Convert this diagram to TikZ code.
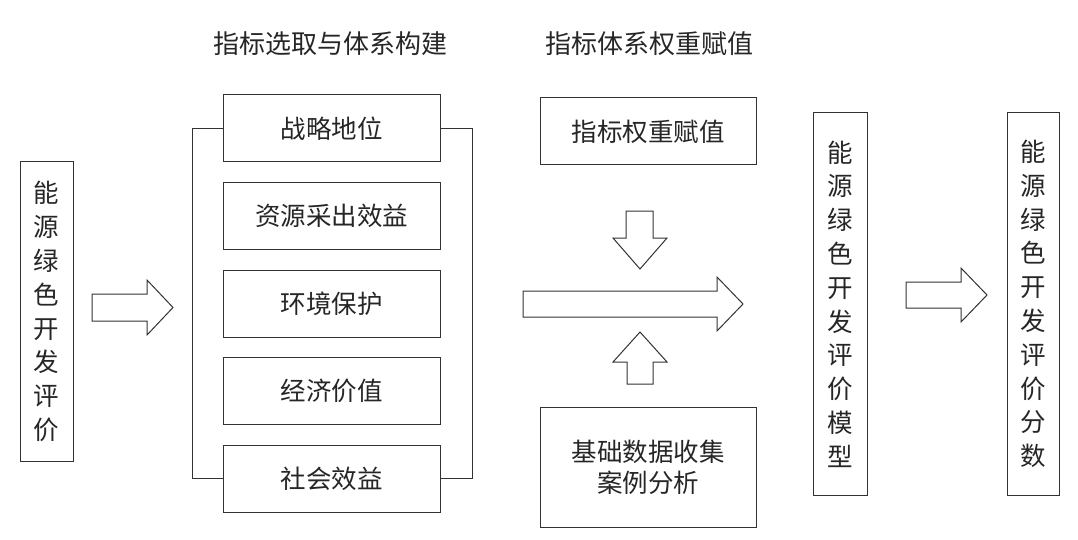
\documentclass[tikz,border=0pt]{standalone}
\usepackage{fontspec}
\setmainfont{Noto Sans CJK SC}
\begin{document}
\begin{tikzpicture}[x=1pt,y=-1pt,
  line width=1pt,
  every node/.style={font=\fontsize{25.5}{33.8}\selectfont, text=black!85, inner sep=0pt},
  box/.style={draw=black!80, rectangle, align=center},
  vbox/.style={box, minimum width=53, align=center},
  hbox/.style={box, minimum width=217, minimum height=67},
  blockarrow/.style={draw=black!80, fill=white, line join=miter},
  title/.style={font=\fontsize{26}{30}\selectfont}]
\useasboundingbox (0,0) rectangle (1078,540);
% titles
\node[title] (t1) at (330.5,44) {指标选取与体系构建};
\node[title] (t2) at (649,44) {指标体系权重赋值};
% left box
\node[vbox, minimum height=299] (L) at (46.5,311.5) {能\\源\\绿\\色\\开\\发\\评\\价};
% indicator boxes
\node[hbox] (b1) at (331.5,128.5) {战略地位};
\node[hbox] (b2) at (331.5,216) {资源采出效益};
\node[hbox] (b3) at (331.5,303.5) {环境保护};
\node[hbox] (b4) at (331.5,390.5) {经济价值};
\node[hbox] (b5) at (331.5,478.5) {社会效益};
% bracket
\coordinate (bl) at (192,128.5);
\coordinate (br) at (472,128.5);
\draw[draw=black!80] (b1.west) -- (bl) |- (b5.west);
\draw[draw=black!80] (b1.east) -- (br) |- (b5.east);
% weight boxes
\node[box, minimum width=216, minimum height=67] (w) at (648,131.5) {指标权重赋值};
\node[box, minimum width=216, minimum height=120, font=\fontsize{25.5}{31}\selectfont] (d) at (648,467) {基础数据收集\\案例分析};
% model and score boxes
\node[vbox, minimum width=54, minimum height=382] (M) at (840,304) {能\\源\\绿\\色\\开\\发\\评\\价\\模\\型};
\node[vbox, minimum width=52, minimum height=382] (S) at (1033,304) {能\\源\\绿\\色\\开\\发\\评\\价\\分\\数};
% block arrows
\draw[blockarrow] (92,294) -- (147,294) -- (147,280) -- (173,307.5) -- (147,335) -- (147,321) -- (92,321) -- cycle;
\draw[blockarrow] (523,291) -- (717,291) -- (717,277) -- (743,304) -- (717,331) -- (717,317) -- (523,317) -- cycle;
\draw[blockarrow] (906,282) -- (961,282) -- (961,268) -- (987,295) -- (961,322) -- (961,308) -- (906,308) -- cycle;
\draw[blockarrow] (626,211) -- (653,211) -- (653,238) -- (667,238) -- (640,269) -- (613,238) -- (626,238) -- cycle;
\draw[blockarrow] (627,384) -- (653,384) -- (653,362) -- (667,362) -- (640,332) -- (613,362) -- (627,362) -- cycle;
\end{tikzpicture}
\end{document}
